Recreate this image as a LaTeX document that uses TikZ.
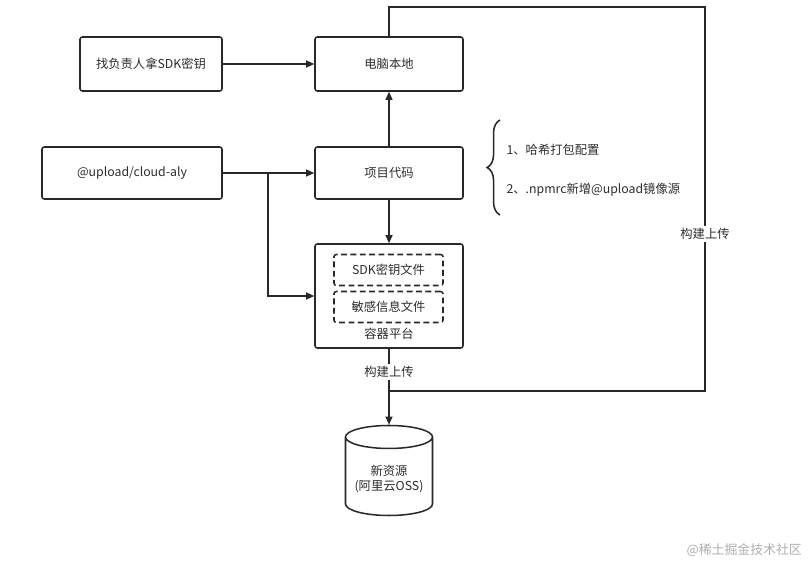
\documentclass[tikz,border=0pt]{standalone}
\usepackage{fontspec}
\setmainfont{Noto Sans CJK SC}
\usepackage{xcolor}
\usetikzlibrary{positioning,shapes.geometric,arrows.meta,decorations.pathreplacing}
\definecolor{LineGray}{RGB}{40,40,40}
\definecolor{TextGray}{RGB}{45,45,45}
\definecolor{MarkGray}{RGB}{175,175,175}
\tikzset{
  sbox/.style={draw=LineGray,fill=white,rounded corners=2pt,
               minimum width=4.44cm,minimum height=1.62cm,
               font=\fontsize{10.5}{12}\selectfont,text=TextGray,line width=1.3pt},
  dbox/.style={draw=LineGray,dashed,dash pattern=on 5pt off 3pt,rounded corners=2pt,
               minimum width=3.27cm,minimum height=0.93cm,
               font=\fontsize{10.5}{12}\selectfont,text=TextGray,line width=1.3pt},
  dbcyl/.style={draw=LineGray,fill=white,cylinder,shape border rotate=90,aspect=0.3,
               minimum width=2.61cm,minimum height=2.7cm,align=center,
               font=\fontsize{10.5}{13}\selectfont,text=TextGray,line width=1.3pt},
  arr/.style={-{Triangle[length=7pt,width=6pt]},LineGray,line width=1.3pt},
  ln/.style={LineGray,line width=1.3pt},
  lbl/.style={fill=white,inner sep=2pt,font=\fontsize{10.5}{12}\selectfont,text=TextGray},
}
\begin{document}
\begin{tikzpicture}[x=0.03cm,y=-0.03cm]
\useasboundingbox (0,0) rectangle (811,566);
\node[sbox, minimum width=4.26cm] (getkey) at (151,64) {找负责人拿SDK密钥};
\node[sbox] (local) at (389,64) {电脑本地};
\node[sbox, minimum width=5.4cm, minimum height=1.56cm] (pkg) at (132,173) {@upload/cloud-aly};
\node[sbox, minimum height=1.56cm] (code) at (389,173) {项目代码};
\node[sbox, minimum height=3.12cm] (box) at (389,296) {};
\node[dbox] (sdkfile) at (388.5,270) {SDK密钥文件};
\node[dbox] (secfile) at (388.5,307) {敏感信息文件};
\node[lbl, fill=none] (boxname) at (389,334) {容器平台};
\node[dbcyl] (oss) at (389,479) {新资源\\(阿里云OSS)};
\node[lbl, anchor=west] (note1) at (504,150) {1、哈希打包配置};
\node[lbl, anchor=west] (note2) at (504,190) {2、.npmrc新增@upload镜像源};
\coordinate (split) at (268,173);
\coordinate (merge) at (389,391);
\coordinate (topleft) at (389,7);
\coordinate (topright) at (705,7);

\draw[arr] (getkey)--(local);
\draw[arr] (pkg)--(code);
\draw[arr] (split)|-(box.west);
\draw[arr] (code)--(local);
\draw[arr] (code)--(box);
\draw[arr] (box.south)--node[lbl,pos=0.3]{构建上传}(oss.top);
\draw[ln] (local.north)--(topleft)--(topright)--node[lbl,pos=0.59]{构建上传}(topright|-merge)--(merge);
\draw[ln, decorate, decoration={brace,amplitude=11pt}] (500,215)--(500,120);
\node[font=\fontsize{11}{13}\selectfont, text=MarkGray, anchor=east] (mark) at (806,550) {@稀土掘金技术社区};
\end{tikzpicture}
\end{document}
